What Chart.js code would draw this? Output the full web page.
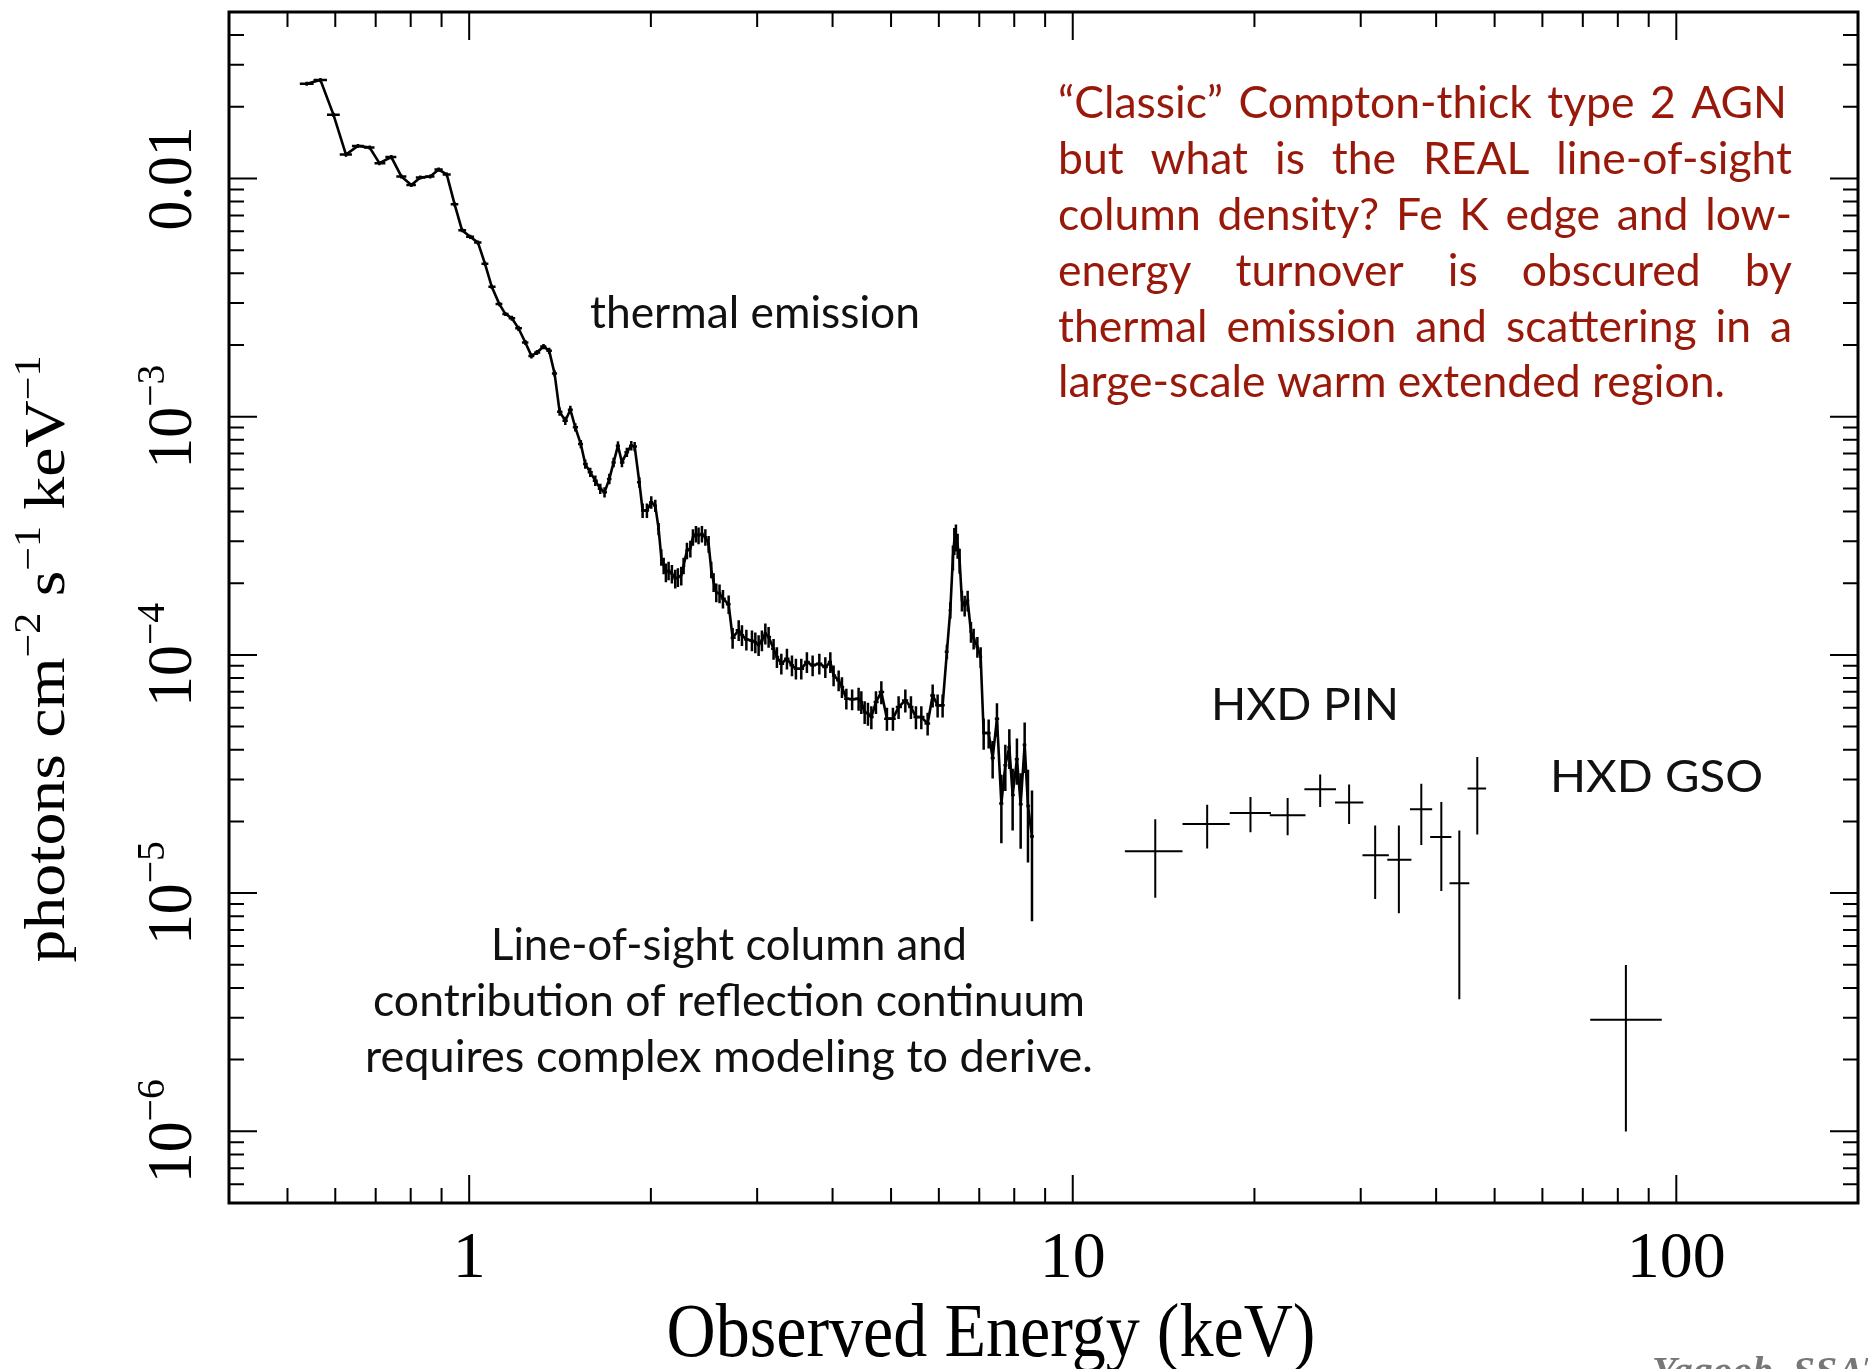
<!DOCTYPE html>
<html>
<head>
<meta charset="utf-8">
<script src="https://cdn.jsdelivr.net/npm/chart.js@4.4.0/dist/chart.umd.min.js"></script>
<style>
    html, body { margin: 0; padding: 0; background: #fff; }
    canvas { display: block; }
</style>
</head>
<body>
<canvas id="myChart" width="1868" height="1369"></canvas>
<script>
// Suzaku XIS spectrum: energy (keV), flux (photons cm-2 s-1 keV-1), fractional error
var xisEnergy = [
    0.538, 0.567, 0.596, 0.625, 0.654, 0.684, 0.710, 0.743, 0.772, 0.802,
    0.830, 0.862, 0.890, 0.918, 0.946, 0.973, 1.004, 1.034, 1.062, 1.090,
    1.122, 1.148, 1.177, 1.207, 1.239, 1.268, 1.295, 1.328, 1.357, 1.385,
    1.412, 1.443, 1.471, 1.499, 1.531, 1.557, 1.587, 1.618, 1.649, 1.676,
    1.707, 1.735, 1.764, 1.791, 1.825, 1.856, 1.880, 1.914, 1.938, 1.970,
    2.003, 2.034, 2.060, 2.081, 2.100, 2.118, 2.140, 2.167, 2.195, 2.217,
    2.246, 2.266, 2.295, 2.325, 2.348, 2.375, 2.399, 2.430, 2.462, 2.493,
    2.518, 2.541, 2.567, 2.599, 2.633, 2.691, 2.732, 2.796, 2.831, 2.879,
    2.941, 2.979, 3.017, 3.055, 3.095, 3.134, 3.194, 3.235, 3.290, 3.361,
    3.426, 3.478, 3.550, 3.627, 3.707, 3.803, 3.891, 3.966, 4.016, 4.094,
    4.146, 4.216, 4.310, 4.418, 4.464, 4.521, 4.578, 4.638, 4.720, 4.818,
    4.922, 5.036, 5.146, 5.280, 5.394, 5.498, 5.612, 5.749, 5.860, 5.972,
    6.087, 6.187, 6.268, 6.331, 6.365, 6.404, 6.446, 6.495, 6.552, 6.621,
    6.697, 6.782, 6.852, 6.950, 7.038, 7.119, 7.256, 7.367, 7.489, 7.616,
    7.732, 7.851, 7.951, 8.082, 8.198, 8.324, 8.430, 8.560
]
var xisFlux = [
    0.0250, 0.0259, 0.0185, 0.0126, 0.0137, 0.0135, 0.0116, 0.0123, 0.0102, 0.00939,
    0.0101, 0.0102, 0.0109, 0.0104, 0.00779, 0.00607, 0.00569, 0.00538, 0.00439, 0.00351,
    0.00297, 0.00270, 0.00259, 0.00235, 0.00205, 0.00180, 0.00186, 0.00197, 0.00189, 0.00152,
    0.00105, 0.000962, 0.00107, 0.000902, 0.000768, 0.000633, 0.000584, 0.000539, 0.000498, 0.000482,
    0.000548, 0.000643, 0.000756, 0.000643, 0.000709, 0.000756, 0.000749, 0.000530, 0.000404, 0.000404,
    0.000437, 0.000423, 0.000338, 0.000257, 0.000237, 0.000222, 0.000226, 0.000219, 0.000209, 0.000212,
    0.000215, 0.000237, 0.000274, 0.000279, 0.000312, 0.000322, 0.000317, 0.000322, 0.000312, 0.000292,
    0.000228, 0.000202, 0.000183, 0.000181, 0.000172, 0.000163, 0.000118, 0.000127, 0.000121, 0.000116,
    0.000115, 0.000113, 0.000110, 0.000115, 0.000123, 0.000119, 0.000106, 9.79e-5, 9.19e-5, 9.64e-5,
    9.04e-5, 8.75e-5, 8.75e-5, 9.33e-5, 9.04e-5, 9.19e-5, 8.89e-5, 9.33e-5, 8.20e-5, 7.82e-5,
    7.33e-5, 6.55e-5, 6.51e-5, 6.55e-5, 6.34e-5, 5.76e-5, 5.67e-5, 5.48e-5, 6.34e-5, 6.98e-5,
    5.40e-5, 5.40e-5, 6.04e-5, 6.44e-5, 6.04e-5, 5.48e-5, 5.48e-5, 5.15e-5, 6.76e-5, 6.14e-5,
    6.14e-5, 1.03e-4, 1.54e-4, 2.57e-4, 3.02e-4, 3.12e-4, 2.88e-4, 2.49e-4, 1.69e-4, 1.61e-4,
    1.69e-4, 1.25e-4, 1.17e-4, 1.08e-4, 9.79e-5, 4.70e-5, 4.70e-5, 3.69e-5, 5.40e-5, 2.38e-5,
    3.44e-5, 4.10e-5, 2.58e-5, 3.65e-5, 2.36e-5, 4.20e-5, 2.32e-5, 1.73e-5
]
var xisErr = [
    0.015, 0.015, 0.015, 0.015, 0.015, 0.015, 0.015, 0.015, 0.015, 0.015,
    0.015, 0.015, 0.015, 0.015, 0.015, 0.015, 0.015, 0.015, 0.018, 0.02,
    0.02, 0.02, 0.025, 0.025, 0.025, 0.025, 0.025, 0.025, 0.03, 0.03,
    0.04, 0.04, 0.04, 0.04, 0.04, 0.045, 0.045, 0.05, 0.05, 0.05,
    0.05, 0.045, 0.04, 0.045, 0.045, 0.045, 0.045, 0.05, 0.07, 0.07,
    0.06, 0.06, 0.06, 0.08, 0.08, 0.09, 0.09, 0.09, 0.09, 0.09,
    0.09, 0.08, 0.08, 0.08, 0.08, 0.08, 0.08, 0.08, 0.08, 0.08,
    0.08, 0.09, 0.09, 0.09, 0.09, 0.09, 0.1, 0.1, 0.1, 0.1,
    0.1, 0.1, 0.1, 0.1, 0.1, 0.1, 0.1, 0.1, 0.1, 0.1,
    0.1, 0.1, 0.1, 0.1, 0.1, 0.1, 0.1, 0.1, 0.1, 0.1,
    0.1, 0.1, 0.1, 0.11, 0.11, 0.11, 0.11, 0.11, 0.11, 0.11,
    0.11, 0.11, 0.11, 0.11, 0.11, 0.11, 0.11, 0.11, 0.11, 0.11,
    0.11, 0.07, 0.08, 0.12, 0.13, 0.13, 0.12, 0.12, 0.1, 0.1,
    0.1, 0.1, 0.1, 0.1, 0.1, 0.15, 0.14, 0.18, 0.16, 0.32,
    0.22, 0.19, 0.29, 0.22, 0.35, 0.24, 0.42, 0.56
]

// HXD PIN bins
var pinEnergy = [13.7, 16.7, 19.7, 22.7, 25.7, 28.7, 31.7, 34.7, 37.8, 40.8, 43.7, 46.8]
var pinLo = [12.2, 15.2, 18.2, 21.2, 24.2, 27.2, 30.2, 33.2, 36.2, 39.1, 42.1, 45.1]
var pinHi = [15.2, 18.2, 21.3, 24.3, 27.3, 30.3, 33.4, 36.4, 39.4, 42.4, 45.4, 48.4]
var pinFlux = [1.50e-5, 1.95e-5, 2.17e-5, 2.12e-5, 2.73e-5, 2.40e-5, 1.44e-5, 1.38e-5, 2.25e-5, 1.72e-5, 1.10e-5, 2.75e-5]
var pinUp = [2.04e-5, 2.35e-5, 2.53e-5, 2.51e-5, 3.15e-5, 2.86e-5, 1.92e-5, 1.92e-5, 2.88e-5, 2.41e-5, 1.83e-5, 3.73e-5]
var pinDown = [9.56e-6, 1.54e-5, 1.80e-5, 1.75e-5, 2.30e-5, 1.95e-5, 9.44e-6, 8.22e-6, 1.59e-5, 1.02e-5, 3.58e-6, 1.76e-5]

// HXD GSO bin
var gsoEnergy = [82.5]
var gsoLo = [72.0]
var gsoHi = [94.6]
var gsoFlux = [2.94e-6]
var gsoUp = [4.99e-6]
var gsoDown = [9.98e-7]

// axis labels
var xTickValues = [1, 10, 100]
var xTickText = ["1", "10", "100"]
var yTickValues = [1e-2, 1e-3, 1e-4, 1e-5, 1e-6]
var yTickText = ["0.01", "10", "10", "10", "10"]
var yTickSup = ["", "\u22123", "\u22124", "\u22125", "\u22126"]

var RED = '#98180a'
var SERIF = '"Liberation Serif", "DejaVu Serif", serif'
var SANS = 'Lato, "Open Sans", sans-serif'

function cross(ctx, xl, xr, xc, yc, yt, yb) {
    ctx.beginPath()
    ctx.moveTo(xl, yc)
    ctx.lineTo(xr, yc)
    ctx.moveTo(xc, yt)
    ctx.lineTo(xc, yb)
    ctx.stroke()
}

// draw text squeezed/stretched to a given width
function fitText(ctx, text, x, y, width, align) {
    var w = ctx.measureText(text).width
    var sx = width ? width / w : 1
    var off = align == 'center' ? -w / 2 : (align == 'right' ? -w : 0)
    ctx.save()
    ctx.translate(x, y)
    ctx.scale(sx, 1)
    ctx.textAlign = 'left'
    ctx.fillText(text, off, 0)
    ctx.restore()
}

function justify(ctx, text, left, right, y, sx) {
    var words = text.split(' ')
    var widths = words.map(function(w) { return ctx.measureText(w).width * sx })
    var total = widths.reduce(function(a, b) { return a + b }, 0)
    var gap = (right - left - total) / (words.length - 1)
    var x = left
    words.forEach(function(w, i) {
        ctx.save()
        ctx.translate(x, y)
        ctx.scale(sx, 1)
        ctx.fillText(w, 0, 0)
        ctx.restore()
        x += widths[i] + gap
    })
}

// rotated (bottom to top) text with superscript parts, centred on cy
function drawVertical(ctx, parts, baseX, cy, size, length) {
    var supSize = Math.round(size * 0.64)
    var widths = parts.map(function(p) {
        ctx.font = (p.sup ? supSize : size) + 'px ' + SERIF
        return ctx.measureText(p.t).width
    })
    var total = widths.reduce(function(a, b) { return a + b }, 0)
    var sx = length ? length / total : 1
    ctx.save()
    ctx.translate(baseX, cy)
    ctx.rotate(-Math.PI / 2)
    ctx.scale(sx, 1)
    var x = -total / 2
    parts.forEach(function(p, i) {
        ctx.font = (p.sup ? supSize : size) + 'px ' + SERIF
        ctx.fillText(p.t, x, p.sup ? -size * 0.42 : 0)
        x += widths[i]
    })
    ctx.restore()
}

var whiteBackground = {
    id: 'whiteBackground',
    beforeDraw: function(chart) {
        var c = chart.ctx
        c.save()
        c.fillStyle = '#fff'
        c.fillRect(0, 0, chart.width, chart.height)
        c.restore()
    }
}

var errorBars = {
    id: 'errorBars',
    afterDatasetsDraw: function(chart) {
        var c = chart.ctx
        var xs = chart.scales.x, ys = chart.scales.y
        var a = chart.chartArea
        var n = xisEnergy.length
        c.save()
        c.beginPath()
        c.rect(a.left, a.top, a.right - a.left, a.bottom - a.top)
        c.clip()
        c.strokeStyle = '#000'
        c.lineCap = 'butt'

        // XIS: horizontal bar spans the bin between neighbouring channels
        c.lineWidth = 2.5
        for (var i = 0; i < n; i++) {
            var e = xisEnergy[i]
            var lo = i > 0 ? Math.sqrt(xisEnergy[i - 1] * e) : e * e / Math.sqrt(e * xisEnergy[i + 1])
            var hi = i < n - 1 ? Math.sqrt(e * xisEnergy[i + 1]) : e * e / Math.sqrt(xisEnergy[i - 1] * e)
            var f = xisFlux[i]
            var err = Math.max(xisErr[i], 0.02)
            cross(c, xs.getPixelForValue(lo), xs.getPixelForValue(hi), xs.getPixelForValue(e),
                ys.getPixelForValue(f), ys.getPixelForValue(f * (1 + err)), ys.getPixelForValue(f * (1 - err)))
        }

        c.lineWidth = 2
        for (var j = 0; j < pinEnergy.length; j++) {
            cross(c, xs.getPixelForValue(pinLo[j]), xs.getPixelForValue(pinHi[j]), xs.getPixelForValue(pinEnergy[j]),
                ys.getPixelForValue(pinFlux[j]), ys.getPixelForValue(pinUp[j]), ys.getPixelForValue(pinDown[j]))
        }
        for (var k = 0; k < gsoEnergy.length; k++) {
            cross(c, xs.getPixelForValue(gsoLo[k]), xs.getPixelForValue(gsoHi[k]), xs.getPixelForValue(gsoEnergy[k]),
                ys.getPixelForValue(gsoFlux[k]), ys.getPixelForValue(gsoUp[k]), ys.getPixelForValue(gsoDown[k]))
        }
        c.restore()
    }
}

var frameAndText = {
    id: 'frameAndText',
    afterDraw: function(chart) {
        var c = chart.ctx
        var xs = chart.scales.x, ys = chart.scales.y
        var a = chart.chartArea
        c.save()
        c.strokeStyle = '#000'

        // inward tick marks on all four sides
        c.lineWidth = 2
        c.beginPath()
        for (var ex = -1; ex <= 2; ex++) {
            for (var m = 1; m <= 9; m++) {
                var v = m * Math.pow(10, ex)
                if (v <= xs.min || v >= xs.max) continue
                var px = xs.getPixelForValue(v)
                var len = m == 1 ? 28 : 15
                c.moveTo(px, a.bottom); c.lineTo(px, a.bottom - len)
                c.moveTo(px, a.top); c.lineTo(px, a.top + len)
            }
        }
        for (var ey = -7; ey <= -2; ey++) {
            for (var m2 = 1; m2 <= 9; m2++) {
                var vy = m2 * Math.pow(10, ey)
                if (vy <= ys.min || vy >= ys.max) continue
                var py = ys.getPixelForValue(vy)
                var len2 = m2 == 1 ? 28 : 15
                c.moveTo(a.left, py); c.lineTo(a.left + len2, py)
                c.moveTo(a.right, py); c.lineTo(a.right - len2, py)
            }
        }
        c.stroke()

        c.lineWidth = 3
        c.strokeRect(a.left, a.top, a.right - a.left, a.bottom - a.top)

        // tick labels
        c.fillStyle = '#000'
        c.textBaseline = 'alphabetic'
        c.font = '66px ' + SERIF
        xTickValues.forEach(function(v, i) {
            fitText(c, xTickText[i], xs.getPixelForValue(v), 1277, null, 'center')
        })
        yTickValues.forEach(function(v, i) {
            var parts = [{ t: yTickText[i] }]
            if (yTickSup[i]) parts.push({ t: yTickSup[i], sup: true })
            drawVertical(c, parts, 191, ys.getPixelForValue(v), 64, 104)
        })

        // axis titles
        c.font = '76px ' + SERIF
        fitText(c, 'Observed Energy (keV)', 991, 1356, 649, 'center')
        drawVertical(c, [
            { t: 'photons cm' }, { t: '\u22122', sup: true },
            { t: ' s' }, { t: '\u22121', sup: true },
            { t: ' keV' }, { t: '\u22121', sup: true }
        ], 64, 659, 58, 607)

        // annotations
        c.font = '44px ' + SANS
        c.fillStyle = '#111'
        fitText(c, 'thermal emission', 590, 328, 330, 'left')
        fitText(c, 'HXD PIN', 1211, 720, 188, 'left')
        fitText(c, 'HXD GSO', 1550, 792, 213, 'left')
        fitText(c, 'Line-of-sight column and', 729, 960, 476, 'center')
        fitText(c, 'contribution of reflection continuum', 729, 1016, 712, 'center')
        fitText(c, 'requires complex modeling to derive.', 729, 1072, 728, 'center')

        c.fillStyle = RED
        var lines = [
            '\u201CClassic\u201D Compton-thick type 2 AGN',
            'but what is the REAL line-of-sight',
            'column density? Fe K edge and low-',
            'energy turnover is obscured by',
            'thermal emission and scattering in a',
            'large-scale warm extended region.'
        ]
        var last = lines[lines.length - 1]
        var sx = (1725 - 1058) / c.measureText(last).width
        var bases = [118, 174, 230, 286, 342, 397]
        lines.forEach(function(l, i) {
            if (i == lines.length - 1) {
                fitText(c, l, 1058, bases[i], 1725 - 1058, 'left')
            } else {
                justify(c, l, 1058, i == 0 ? 1787 : 1792, bases[i], sx)
            }
        })

        // credit line, cut by the bottom edge
        c.fillStyle = '#777'
        c.font = 'italic bold 40px ' + SERIF
        c.fillText('Yaqoob, SSAT', 1652, 1384)
        c.restore()
    }
}

var ctx = document.getElementById('myChart').getContext('2d')
var myChart = new Chart(ctx, {
    type: 'line',
    data: {
        datasets: [{
            label: 'XIS',
            data: xisEnergy.map(function(e, i) { return { x: e, y: xisFlux[i] } }),
            borderColor: '#000',
            borderWidth: 2.6,
            pointRadius: 0,
            tension: 0,
            fill: false
        }, {
            label: 'HXD PIN',
            data: pinEnergy.map(function(e, i) { return { x: e, y: pinFlux[i] } }),
            showLine: false,
            pointRadius: 0
        }, {
            label: 'HXD GSO',
            data: gsoEnergy.map(function(e, i) { return { x: e, y: gsoFlux[i] } }),
            showLine: false,
            pointRadius: 0
        }]
    },
    options: {
        responsive: false,
        animation: false,
        devicePixelRatio: 1,
        layout: { padding: { left: 229, right: 10, top: 12, bottom: 166 } },
        scales: {
            x: { type: 'logarithmic', min: 0.4, max: 200, display: false },
            y: { type: 'logarithmic', min: 5e-7, max: 0.05, display: false }
        },
        plugins: {
            legend: { display: false },
            tooltip: { enabled: false }
        }
    },
    plugins: [whiteBackground, errorBars, frameAndText]
})
</script>
</body>
</html>
